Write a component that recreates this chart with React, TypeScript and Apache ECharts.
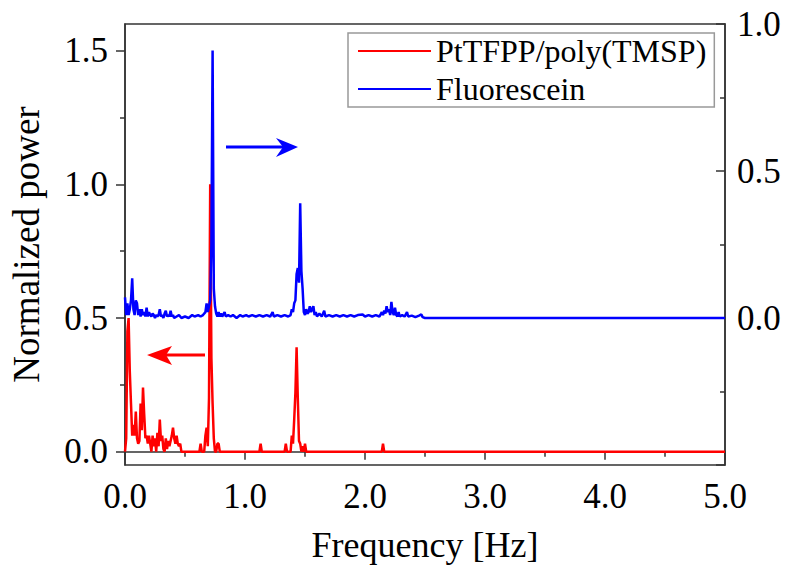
import React, { useEffect, useRef } from "react";
import * as echarts from "echarts";

// Frequency [Hz] / normalized power
const redSeriesName = "PtTFPP/poly(TMSP)";
const blueSeriesName = "Fluorescein";

const redData: [number, number][] = [
  [0, 0.0], [0.01, 0.05], [0.02, 0.45], [0.03, 0.5], [0.04, 0.3], [0.05, 0.18], [0.06, 0.06],
  [0.07, 0.1], [0.08, 0.06], [0.09, 0.15], [0.1, 0.05], [0.11, 0.03], [0.12, 0.04], [0.13, 0.18],
  [0.14, 0.08], [0.15, 0.24], [0.16, 0.14], [0.17, 0.05], [0.18, 0.06], [0.19, 0.03], [0.2, 0.06],
  [0.21, 0.03], [0.22, 0.0], [0.23, 0.06], [0.24, 0.02], [0.25, 0.05], [0.26, 0.0], [0.27, 0.07],
  [0.28, 0.02], [0.29, 0.12], [0.3, 0.04], [0.31, 0.06], [0.32, 0.01], [0.33, 0.0], [0.34, 0.05],
  [0.35, 0.01], [0.36, 0.04], [0.37, 0.02], [0.38, 0.04], [0.39, 0.06], [0.4, 0.09], [0.41, 0.05],
  [0.42, 0.03], [0.43, 0.06], [0.44, 0.03], [0.45, 0.02], [0.46, 0.03], [0.47, 0.0], [0.62, 0.0],
  [0.63, 0.03], [0.64, 0.0], [0.66, 0.0], [0.67, 0.06], [0.68, 0.09], [0.69, 0.02], [0.7, 0.2],
  [0.71, 1.0], [0.72, 0.35], [0.73, 0.18], [0.74, 0.05], [0.75, 0.0], [0.76, 0.0], [0.77, 0.03],
  [0.78, 0.03], [0.79, 0.0], [1.12, 0.0], [1.13, 0.03], [1.14, 0.0], [1.33, 0.0], [1.34, 0.03],
  [1.35, 0.0], [1.38, 0.0], [1.39, 0.06], [1.4, 0.03], [1.41, 0.12], [1.42, 0.22], [1.43, 0.39],
  [1.44, 0.2], [1.45, 0.04], [1.46, 0.03], [1.47, 0.0], [1.48, 0.02], [1.49, 0.0], [1.5, 0.03],
  [1.51, 0.0], [2.14, 0.0], [2.15, 0.03], [2.16, 0.0], [5.0, 0.0],
];

const blueData: [number, number][] = [
  [0, 0.07], [0.01, 0.01], [0.02, 0.05], [0.03, 0.01], [0.04, 0.03], [0.05, 0.06], [0.06, 0.135],
  [0.07, 0.03], [0.08, 0.01], [0.09, 0.06], [0.1, 0.05], [0.11, 0.01], [0.12, 0.03], [0.13, 0.005],
  [0.14, 0.03], [0.15, 0.01], [0.16, 0.02], [0.17, 0.005], [0.18, 0.035], [0.19, 0.005], [0.2, 0.02],
  [0.21, 0.01], [0.22, 0.005], [0.23, 0.015], [0.24, 0.01], [0.25, 0.0], [0.26, 0.01], [0.27, 0.005],
  [0.28, 0.01], [0.29, 0.03], [0.3, 0.005], [0.31, 0.01], [0.32, 0.0], [0.33, 0.015], [0.34, 0.025],
  [0.35, 0.005], [0.36, 0.01], [0.37, 0.005], [0.38, 0.025], [0.39, 0.005], [0.4, 0.01], [0.41, 0.0],
  [0.43, 0.005], [0.45, 0.01], [0.47, 0.0], [0.5, 0.005], [0.53, 0.0], [0.56, 0.01], [0.58, 0.005],
  [0.61, 0.01], [0.63, 0.005], [0.65, 0.01], [0.67, 0.02], [0.68, 0.05], [0.69, 0.02], [0.7, 0.04],
  [0.71, 0.06], [0.72, 0.25], [0.73, 0.91], [0.74, 0.1], [0.75, 0.04], [0.76, 0.015], [0.77, 0.005],
  [0.78, 0.02], [0.79, 0.005], [0.8, 0.015], [0.81, 0.005], [0.83, 0.02], [0.84, 0.005], [0.86, 0.01],
  [0.88, 0.005], [0.9, 0.01], [0.93, 0.0], [0.96, 0.01], [0.98, 0.005], [1.01, 0.01], [1.03, 0.005],
  [1.06, 0.01], [1.09, 0.005], [1.12, 0.01], [1.15, 0.005], [1.18, 0.01], [1.21, 0.005], [1.23, 0.02],
  [1.24, 0.005], [1.27, 0.01], [1.3, 0.005], [1.33, 0.01], [1.36, 0.005], [1.38, 0.01], [1.39, 0.03],
  [1.4, 0.02], [1.41, 0.05], [1.42, 0.06], [1.43, 0.15], [1.44, 0.17], [1.45, 0.12], [1.46, 0.39],
  [1.47, 0.16], [1.48, 0.1], [1.49, 0.02], [1.5, 0.01], [1.51, 0.03], [1.52, 0.015], [1.53, 0.02],
  [1.54, 0.04], [1.55, 0.02], [1.56, 0.03], [1.57, 0.04], [1.58, 0.01], [1.59, 0.02], [1.6, 0.005],
  [1.62, 0.015], [1.64, 0.005], [1.66, 0.025], [1.67, 0.005], [1.7, 0.01], [1.73, 0.005], [1.76, 0.01],
  [1.79, 0.005], [1.82, 0.01], [1.85, 0.005], [1.88, 0.01], [1.91, 0.005], [1.94, 0.01], [1.98, 0.012],
  [2.0, 0.005], [2.03, 0.01], [2.06, 0.005], [2.09, 0.01], [2.12, 0.005], [2.14, 0.02], [2.15, 0.01],
  [2.16, 0.025], [2.17, 0.015], [2.18, 0.04], [2.19, 0.02], [2.2, 0.03], [2.21, 0.01], [2.22, 0.055],
  [2.23, 0.02], [2.24, 0.01], [2.25, 0.035], [2.26, 0.01], [2.27, 0.005], [2.28, 0.02], [2.29, 0.005],
  [2.31, 0.01], [2.33, 0.005], [2.35, 0.02], [2.36, 0.005], [2.39, 0.008], [2.42, 0.003], [2.45, 0.008],
  [2.47, 0.012], [2.48, 0.003], [2.5, 0.0], [5.0, 0.0],
];

const leftLabelValues = [0, 0.5, 1.0, 1.5];
const leftMinorTickValues = [0.25, 0.75, 1.25];
const xAxisTitle = "Frequency [Hz]";
const yAxisTitle = "Normalized power";

const FONT = "'Liberation Serif', 'Times New Roman', serif";
const AXIS_COLOR = "#333";

export default function App() {
  const ref = useRef<HTMLDivElement>(null);
  useEffect(() => {
    if (!ref.current) return;
    const chart = echarts.init(ref.current, undefined, { renderer: "svg" });
    const axisLine = { show: true, lineStyle: { color: AXIS_COLOR, width: 1.5 } };
    chart.setOption({
      animation: false,
      backgroundColor: "#fff",
      textStyle: { fontFamily: FONT, color: "#000" },
      grid: {
        left: 125,
        right: 60,
        top: 24,
        bottom: 103,
        show: true,
        borderColor: AXIS_COLOR,
        borderWidth: 1.5,
        backgroundColor: "transparent",
      },
      legend: {
        orient: "vertical",
        left: 348,
        top: 33,
        icon: "rect",
        itemWidth: 73,
        itemHeight: 2,
        itemGap: 6,
        padding: [2, 8, 2, 10],
        borderColor: "#999",
        borderWidth: 1.5,
        textStyle: { fontFamily: FONT, fontSize: 32, color: "#000" },
        data: [redSeriesName, blueSeriesName],
      },
      xAxis: {
        type: "value",
        min: 0,
        max: 5,
        interval: 1,
        name: xAxisTitle,
        nameLocation: "middle",
        nameGap: 62,
        nameTextStyle: { fontFamily: FONT, fontSize: 36, color: "#000" },
        axisLine,
        axisTick: { show: true, length: 8, lineStyle: { color: AXIS_COLOR, width: 1.5 } },
        minorTick: { show: true, splitNumber: 2, length: 5, lineStyle: { color: AXIS_COLOR, width: 1.5 } },
        splitLine: { show: false },
        axisLabel: {
          margin: 14,
          fontFamily: FONT,
          fontSize: 35,
          color: "#000",
          formatter: (v: number) => v.toFixed(1),
        },
      },
      yAxis: [
        {
          type: "value",
          position: "left",
          min: -0.05,
          max: 1.6,
          name: yAxisTitle,
          nameLocation: "middle",
          nameGap: 80,
          nameTextStyle: { fontFamily: FONT, fontSize: 37, color: "#000" },
          axisLine,
          splitLine: { show: false },
          axisTick: {
            show: true,
            length: 9,
            customValues: leftLabelValues,
            lineStyle: { color: AXIS_COLOR, width: 1.5 },
          },
          axisLabel: {
            margin: 17,
            fontFamily: FONT,
            fontSize: 35,
            color: "#000",
            customValues: leftLabelValues,
            formatter: (v: number) => v.toFixed(1),
          },
        },
        {
          type: "value",
          position: "right",
          min: -0.5,
          max: 1.0,
          interval: 0.5,
          axisLine,
          splitLine: { show: false },
          axisTick: { show: true, inside: true, length: 9, lineStyle: { color: AXIS_COLOR, width: 1.5 } },
          minorTick: { show: true, splitNumber: 2, length: 5, lineStyle: { color: AXIS_COLOR, width: 1.5 } },
          axisLabel: {
            margin: 12,
            fontFamily: FONT,
            fontSize: 35,
            color: "#000",
            formatter: (v: number) => (v < -0.01 ? "" : v.toFixed(1)),
          },
        },
        {
          type: "value",
          position: "left",
          min: -0.05,
          max: 1.6,
          axisLine: { show: false },
          splitLine: { show: false },
          axisLabel: { show: false },
          axisTick: {
            show: true,
            length: 5,
            customValues: leftMinorTickValues,
            lineStyle: { color: AXIS_COLOR, width: 1.5 },
          },
        },
      ],
      series: [
        {
          name: redSeriesName,
          type: "line",
          yAxisIndex: 0,
          data: redData,
          showSymbol: false,
          symbol: "none",
          lineStyle: { color: "#ff0000", width: 2.5 },
          itemStyle: { color: "#ff0000" },
          z: 2,
        },
        {
          name: blueSeriesName,
          type: "line",
          yAxisIndex: 1,
          data: blueData,
          showSymbol: false,
          symbol: "none",
          lineStyle: { color: "#0000ff", width: 2.5 },
          itemStyle: { color: "#0000ff" },
          z: 3,
        },
      ],
      graphic: [
        {
          type: "line",
          shape: { x1: 205, y1: 355, x2: 166, y2: 355 },
          style: { stroke: "#ff0000", lineWidth: 3 },
        },
        {
          type: "polygon",
          shape: { points: [[147, 355], [172, 346], [166, 355], [172, 365]] },
          style: { fill: "#ff0000" },
        },
        {
          type: "line",
          shape: { x1: 226, y1: 147, x2: 284, y2: 147 },
          style: { stroke: "#0000ff", lineWidth: 3 },
        },
        {
          type: "polygon",
          shape: { points: [[298, 147], [276, 138], [283, 147], [276, 157]] },
          style: { fill: "#0000ff" },
        },
      ],
    });
    return () => chart.dispose();
  }, []);
  return (
    <div
      ref={ref}
      style={{ position: "absolute", left: 0, top: 0, width: 785, height: 568 }}
    />
  );
}
